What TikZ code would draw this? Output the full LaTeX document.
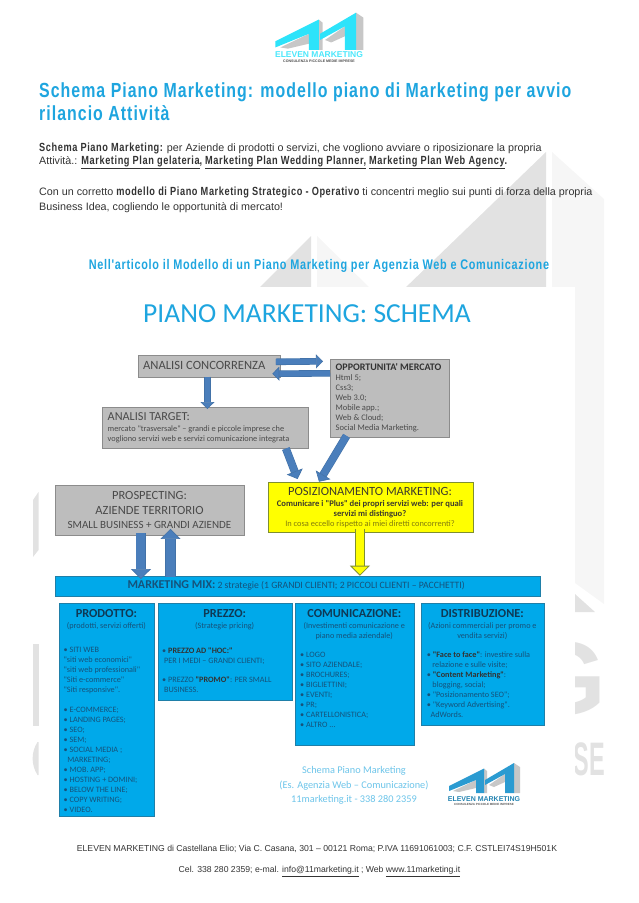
\documentclass[tikz,border=0pt]{standalone}
\usepackage{fontspec}
\setmainfont{Liberation Sans}
\newfontfamily\headfont[FakeStretch=0.78,LetterSpace=5]{Liberation Sans}
\newfontfamily\slidefont{Carlito}
\usetikzlibrary{arrows.meta,calc}
\definecolor{skyhead}{HTML}{1EA5DF}
\definecolor{bodyink}{HTML}{333333}
\definecolor{boxgrey}{HTML}{BDBDBD}
\definecolor{boxline}{HTML}{8C8C8C}
\definecolor{mixblue}{HTML}{00A9EA}
\definecolor{mixline}{HTML}{1F7FA8}
\definecolor{arblue}{HTML}{4A7EBB}
\definecolor{arline}{HTML}{4272A8}
\definecolor{markgrey}{HTML}{E2E2E2}
\definecolor{marklight}{HTML}{F6F6F6}
\definecolor{listink}{HTML}{16527A}
\definecolor{greyink}{HTML}{4A4A4A}
\definecolor{logocyan}{HTML}{2DE3FA}
\definecolor{logoblue}{HTML}{2B9BD1}
\definecolor{pureyellow}{HTML}{FFFF00}
\definecolor{yellowline}{HTML}{7F8F30}
\tikzset{
  pageline/.style = {anchor=west, inner sep=0pt, text=bodyink, font=\fontsize{10.75}{12}\selectfont},
  titleline/.style = {anchor=west, inner sep=0pt, text=skyhead, font=\headfont\bfseries\fontsize{20.4}{22}\selectfont},
  footline/.style = {anchor=center, inner sep=0pt, text=bodyink, font=\fontsize{8.65}{12}\selectfont},
  greybox/.style = {draw=boxline, fill=boxgrey, line width=0.9pt, anchor=north west, inner sep=0pt},
  yellowbox/.style = {draw=yellowline, fill=pureyellow, line width=0.9pt, anchor=north west, inner sep=0pt},
  mixbox/.style = {draw=mixline, fill=mixblue, line width=0.9pt, anchor=north west, inner sep=0pt},
  slidetxt/.style = {inner sep=0pt, text=greyink, font=\slidefont\fontsize{9}{10}\selectfont},
  listtxt/.style = {anchor=north west, align=left, inner sep=0pt, text=listink, font=\slidefont\fontsize{8.2}{10}\selectfont},
  subtxt/.style = {align=center, anchor=north, inner sep=0pt, text=listink, font=\slidefont\fontsize{8.2}{10}\selectfont},
  headtxt/.style = {inner sep=0pt, text=listink!70!black, font=\slidefont\bfseries\fontsize{12.3}{14}\selectfont},
  ar/.style = {-{Triangle[length=7pt,width=14pt,fill=arblue]}, draw=arline, double=arblue,
               double distance=5.4pt, line width=0.6pt},
  armid/.style = {-{Triangle[length=8pt,width=17pt,fill=arblue]}, draw=arline, double=arblue,
               double distance=6.8pt, line width=0.6pt},
  arwide/.style = {-{Triangle[length=10pt,width=20pt,fill=arblue]}, draw=arline, double=arblue,
               double distance=9pt, line width=0.6pt},
  ary/.style = {-{Triangle[length=10pt,width=20pt,fill=pureyellow]}, draw=yellowline, double=pureyellow,
               double distance=8pt, line width=0.8pt}
}
\newcommand{\hd}[1]{{\headfont\bfseries\fontsize{11.8}{12}\selectfont #1}}
% logo mark, #1 origin, #2 scale, #3 colour
\newcommand{\elevenmark}[3]{%
  \begin{scope}[shift={#1}, x=#2pt, y=-#2pt]
    \fill[black!22] (4,28) -- (27,17) -- (27,25) -- (10,29) -- cycle;
    \fill[black!22] (35,5.5) -- (38,8) -- (38,30) -- (35,30) -- cycle;
    \fill[black!22] (40,22) -- (56,11) -- (56,19) -- (45,24) -- cycle;
    \fill[black!22] (65,0) -- (71,4) -- (71,30) -- (65,30) -- cycle;
    \fill[#3] (0,23) -- (35,5.5) -- (35,30) -- (27,30) -- (27,17) -- (0,28) -- cycle;
    \fill[#3] (36,17) -- (65,0) -- (65,30) -- (56,30) -- (56,11) -- (36,22) -- cycle;
  \end{scope}}

\begin{document}
\begin{tikzpicture}[x=1pt, y=-1pt]
\useasboundingbox (0,0) rectangle (638,903);
% ---------------- watermark ----------------
\fill[markgrey] (403,290) -- (546,152) -- (546,290) -- cycle;
\fill[marklight] (552,152) -- (604,199) -- (604,604) -- (575,583) -- (575,290) -- (552,290) -- cycle;
\fill[markgrey] (257,290) -- (311,236) -- (311,290) -- cycle;
\fill[marklight] (317,236) -- (372,290) -- (317,290) -- cycle;
\fill[markgrey] (575,594) -- (595,612) -- (575,612) -- cycle;
\node[anchor=east, inner sep=0pt, text=markgrey, font=\bfseries\fontsize{104}{104}\selectfont] (wmg) at (607,679) {G};
\node[anchor=east, inner sep=0pt, xscale=0.5, text=markgrey, font=\bfseries\fontsize{47}{47}\selectfont] (wmse) at (605,759) {SE};
\fill[markgrey] (33,500) -- (38.5,492) -- (38.5,550) -- (33,557) -- cycle;
\fill[markgrey] (33,644) rectangle (38.5,726);
\fill[markgrey] (37.5,742) .. controls (31,752) and (31,765) .. (37.5,775) -- (38.5,775) -- (38.5,742) -- cycle;
\fill[white] (38.5,287) rectangle (575,828);

% ---------------- page header ----------------
\elevenmark{(275.4,12.7)}{1.24}{logocyan}
\node[inner sep=0pt, text=logocyan!85!white, font=\bfseries\fontsize{8.5}{10}\selectfont] (toplogo) at (319,55) {ELEVEN MARKETING};
\node[inner sep=0pt, text=black!70, font=\bfseries\fontsize{3.6}{4}\selectfont] (topsub) at (319,61) {CONSULENZA PICCOLE MEDIE IMPRESE};
\node[titleline] (title1) at (39,92) {Schema Piano Marketing: modello piano di Marketing per avvio};
\node[titleline] (title2) at (39,113) {rilancio Attività};
\node[pageline] (par1) at (39,148.3) {\hd{Schema Piano Marketing:} per Aziende di prodotti o servizi, che vogliono avviare o riposizionare la propria};
\node[pageline] (par2) at (39,162.3) {Attività.: \underline{\hd{Marketing Plan gelateria}}\hd{,} \underline{\hd{Marketing Plan Wedding Planner,}} \underline{\hd{Marketing Plan Web Agency}}\hd{.}};
\node[pageline] (par3) at (39,192.3) {Con un corretto \hd{modello di Piano Marketing Strategico - Operativo} ti concentri meglio sui punti di forza della propria};
\node[pageline] (par4) at (39,207.3) {Business Idea, cogliendo le opportunità di mercato!};
\node[titleline, font=\headfont\bfseries\fontsize{13.95}{15}\selectfont] (subtitle) at (88.7,265.7) {Nell'articolo il Modello di un Piano Marketing per Agenzia Web e Comunicazione};

% ---------------- slide ----------------
\node[inner sep=0pt, text=skyhead, font=\slidefont\fontsize{27.5}{30}\selectfont] (slidetitle) at (307,314) {PIANO MARKETING: SCHEMA};

% ---------------- analysis boxes ----------------
\node[greybox, minimum width=142pt, minimum height=21.7pt] (conc) at (138,355) {};
\node[slidetxt, anchor=west, font=\slidefont\fontsize{12.6}{14}\selectfont] (conctxt) at (143,365.7) {ANALISI CONCORRENZA};
\node[greybox, minimum width=119pt, minimum height=78.3pt] (opp) at (330,359) {};
\node[slidetxt, anchor=west, text=black!80, font=\slidefont\bfseries\fontsize{10}{12}\selectfont] (opphead) at (335.5,367.3) {OPPORTUNITA' MERCATO};
\node[listtxt, text=greyink, font=\slidefont\fontsize{8.5}{10}\selectfont] (opplist) at (335.5,374.5)
      {Html 5;\\ Css3;\\ Web 3.0;\\ Mobile app.;\\ Web \& Cloud;\\ Social Media Marketing.};
\node[greybox, minimum width=205.6pt, minimum height=41pt] (target) at (102,406.7) {};
\node[slidetxt, anchor=west, font=\slidefont\fontsize{12.2}{14}\selectfont] (targethead) at (107.5,416.7) {ANALISI TARGET:};
\node[listtxt, text=greyink, font=\slidefont\fontsize{8.3}{10}\selectfont] (targettxt) at (107.5,425.5)
      {mercato "trasversale" – grandi e piccole imprese che\\ vogliono servizi web e servizi comunicazione  integrata};
\node[greybox, minimum width=189pt, minimum height=49.4pt] (prosp) at (55,485.3) {};
\node[slidetxt, font=\slidefont\fontsize{12.5}{14}\selectfont] (prosp1) at (149.5,495) {PROSPECTING:};
\node[slidetxt, font=\slidefont\fontsize{12.5}{14}\selectfont] (prosp2) at (149.5,510) {AZIENDE TERRITORIO};
\node[slidetxt, font=\slidefont\fontsize{11}{14}\selectfont] (prosp3) at (149.5,525) {SMALL BUSINESS + GRANDI AZIENDE};
\node[yellowbox, minimum width=204.5pt, minimum height=50.6pt] (pos) at (268,481.7) {};
\node[slidetxt, text=black!75!olive, font=\slidefont\fontsize{12.5}{14}\selectfont] (pos1) at (370,491.7) {POSIZIONAMENTO MARKETING:};
\node[subtxt, text=black!75!olive, font=\slidefont\bfseries\fontsize{8.6}{9.7}\selectfont] (pos2) at (370,500.5)
      {Comunicare i "Plus" dei propri servizi web:  per quali\\ servizi mi distinguo?};
\node[slidetxt, text=olive!90!black, font=\slidefont\fontsize{8.4}{10}\selectfont] (pos3) at (370,524.3) {In cosa eccello rispetto ai miei diretti concorrenti?};

% ---------------- marketing mix ----------------
\node[mixbox, minimum width=485pt, minimum height=20.3pt] (mix) at (55,575.7) {};
\node[slidetxt, anchor=west, text=listink, font=\slidefont\fontsize{9.7}{12}\selectfont] (mixtxt) at (127.3,585.7)
      {{\bfseries\fontsize{12}{14}\selectfont MARKETING MIX:} 2 strategie (1 GRANDI CLIENTI; 2 PICCOLI CLIENTI – PACCHETTI)};

\node[mixbox, minimum width=94.7pt, minimum height=212.7pt] (prodotto) at (59,603.3) {};
\node[headtxt] (prodhead) at (106.4,613.3) {PRODOTTO:};
\node[subtxt] (prodsub) at (106.4,622.7) {(prodotti, servizi offerti)};
\node[listtxt] (prodlist) at (63.5,647.3)
      {• SITI WEB\\ "siti web economici"\\ "siti web professionali"\\ "Siti e-commerce"\\ "Siti responsive".\\[9.7pt]
       • E-COMMERCE;\\ • LANDING PAGES;\\ • SEO;\\ • SEM;\\ • SOCIAL MEDIA ;\\ \ \ MARKETING;\\
       • MOB. APP;\\ • HOSTING + DOMINI;\\ • BELOW THE LINE;\\ • COPY WRITING;\\ • VIDEO.};

\node[mixbox, minimum width=134pt, minimum height=96.4pt] (prezzo) at (157.7,603.3) {};
\node[headtxt] (prezhead) at (224.7,613.3) {PREZZO:};
\node[subtxt] (prezsub) at (224.7,622.7) {(Strategie pricing)};
\node[listtxt] (prezlist) at (162,647.3)
      {• {\bfseries\color{black!80} PREZZO AD "HOC:"}\\ \ PER I MEDI – GRANDI CLIENTI;\\[9.7pt]
       • PREZZO {\bfseries\color{black!80}"PROMO"}:  PER SMALL\\ \ BUSINESS.};

\node[mixbox, minimum width=118.7pt, minimum height=142pt] (comun) at (295,603.3) {};
\node[headtxt] (comhead) at (354.3,613.3) {COMUNICAZIONE:};
\node[subtxt] (comsub) at (354.3,622.7) {(Investimenti comunicazione e\\ piano media aziendale)};
\node[listtxt] (comlist) at (300,652)
      {• LOGO\\ • SITO AZIENDALE;\\ • BROCHURES;\\ • BIGLIETTINI;\\ • EVENTI;\\ • PR;\\ • CARTELLONISTICA;\\ • ALTRO ...};

\node[mixbox, minimum width=122.7pt, minimum height=121.4pt] (distrib) at (421,603.3) {};
\node[headtxt] (dishead) at (482.3,613.3) {DISTRIBUZIONE:};
\node[subtxt] (dissub) at (482.3,622.7) {(Azioni commerciali per promo e\\ vendita servizi)};
\node[listtxt] (dislist) at (426.7,652)
      {• {\bfseries\color{black!80}"Face to face"}: investire sulla\\ \ \ \ relazione e sulle visite;\\
       • {\bfseries\color{black!80}"Content Marketing"}:\\ \ \ \ blogging, social;\\
       • "Posizionamento SEO";\\ • "Keyword Advertising".\\ \ \ AdWords.};

% ---------------- contact ----------------
\node[subtxt, text=skyhead!65, font=\slidefont\fontsize{10.3}{14.8}\selectfont] (contact) at (354,766)
      {Schema Piano Marketing\\ (Es. Agenzia Web – Comunicazione)\\ 11marketing.it  - 338 280 2359};
\elevenmark{(449,763)}{1}{logoblue}
\node[inner sep=0pt, text=logoblue!85!black, font=\bfseries\fontsize{7}{9}\selectfont] (botlogo) at (484,799) {ELEVEN MARKETING};
\node[inner sep=0pt, text=black!65, font=\bfseries\fontsize{3}{4}\selectfont] (botsub) at (484,804) {CONSULENZA PICCOLE MEDIE IMPRESE};

% ---------------- edges ----------------
\draw[ar] ([xshift=-2pt,yshift=1pt]conc.south) -- ([xshift=-2pt,yshift=-2.3pt]conc.south |- target.north);
\draw[ar] ([xshift=-5pt,yshift=4.5pt]conc.east) -- ([xshift=-7pt,yshift=-2.3pt]opp.north west);
\draw[ar] ([yshift=-14.3pt]opp.north west) -- ([xshift=-8.6pt,yshift=-7.45pt]conc.east);
\draw[armid] ([xshift=-22.6pt]target.south east) -- ([xshift=29.6pt,yshift=2.7pt]pos.north west);
\draw[armid] ([xshift=16.5pt,yshift=2.3pt]opp.south west) -- ([xshift=51pt]pos.north west);
\draw[arwide] ([xshift=-9pt,yshift=2.7pt]prosp.south) -- ([xshift=-9pt,yshift=-3.3pt]prosp.south |- mix.north);
\draw[arwide] ([xshift=20.5pt,yshift=-1pt]prosp.south |- mix.north) -- ([xshift=20.5pt,yshift=6.7pt]prosp.south);
\draw[ary] ([xshift=-10.75pt,yshift=4.3pt]pos.south) -- ([xshift=-10.75pt]pos.south |- mix.north);

% ---------------- footer ----------------
\node[footline] (foot1) at (317,849) {ELEVEN MARKETING di Castellana Elio; Via C. Casana, 301 – 00121 Roma; P.IVA 11691061003; C.F. CSTLEI74S19H501K};
\node[footline] (foot2) at (319.5,871.7) {Cel. 338 280 2359; e-mal. \underline{info@11marketing.it} ; Web \underline{www.11marketing.it}};
\end{tikzpicture}
\end{document}
